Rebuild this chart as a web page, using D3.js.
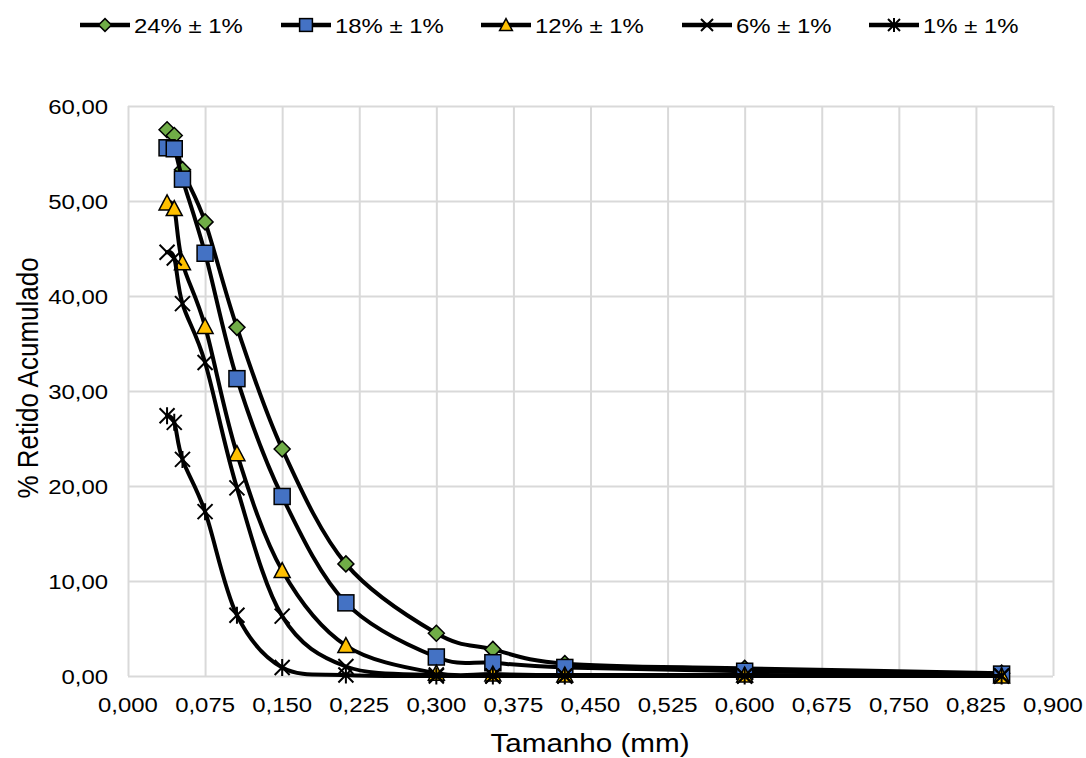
<!DOCTYPE html>
<html>
<head>
<meta charset="utf-8">
<script src="https://cdn.jsdelivr.net/npm/d3@7/dist/d3.min.js"></script>
<style>
  html, body { margin: 0; padding: 0; background: #ffffff; }
  svg { display: block; font-family: "Liberation Sans", Arial, sans-serif; }
</style>
</head>
<body>
<svg id="chart" width="1086" height="758"></svg>
<script>
// Sieve openings (mm)
const sizes = [0.038, 0.045, 0.053, 0.075, 0.106, 0.150, 0.212, 0.300, 0.355, 0.425, 0.600, 0.850];

// Cumulative retained (%) per blend
const ret24 = [57.5, 56.9, 53.3, 47.8, 36.7, 23.9, 11.8, 4.5, 2.8, 1.3, 0.8, 0.3];
const ret18 = [55.6, 55.5, 52.3, 44.5, 31.3, 18.9, 7.7, 2.0, 1.4, 0.9, 0.5, 0.2];
const ret12 = [49.8, 49.2, 43.5, 36.8, 23.4, 11.1, 3.2, 0.3, 0.2, 0.1, 0.1, 0.0];
const ret6  = [44.6, 44.0, 39.2, 33.0, 19.8, 6.3, 1.0, 0.1, 0.0, 0.0, 0.0, 0.0];
const ret1  = [27.4, 26.7, 22.8, 17.3, 6.4, 0.9, 0.1, 0.0, 0.0, 0.0, 0.0, 0.0];

const seriesNames = ["24% ± 1%", "18% ± 1%", "12% ± 1%", "6% ± 1%", "1% ± 1%"];

// Axis ticks
const xTicks = [0, 0.075, 0.150, 0.225, 0.300, 0.375, 0.450, 0.525, 0.600, 0.675, 0.750, 0.825, 0.900];
const yTicks = [0, 10, 20, 30, 40, 50, 60];

const series = [
  { name: seriesNames[0], values: ret24, marker: "diamond", fill: "#70AD47" },
  { name: seriesNames[1], values: ret18, marker: "square", fill: "#4472C4" },
  { name: seriesNames[2], values: ret12, marker: "triangle", fill: "#FFC000" },
  { name: seriesNames[3], values: ret6, marker: "x", fill: "none" },
  { name: seriesNames[4], values: ret1, marker: "star", fill: "none" }
];

const locale = d3.formatLocale({ decimal: ",", thousands: ".", grouping: [3], currency: ["", ""] });
const fmtX = locale.format(".3f");
const fmtY = locale.format(".2f");

const plot = { left: 128, right: 1053, top: 106, bottom: 676 };
const STRETCH = 1.14;   // labels are drawn slightly widened

const svg = d3.select("#chart");

const x = d3.scaleLinear().domain([0, 0.9]).range([plot.left, plot.right]);
const y = d3.scaleLinear().domain([0, 60]).range([plot.bottom, plot.top]);

// Gridlines via axes
const gridColor = "#d9d9d9";
const gx = svg.append("g")
  .attr("transform", `translate(0,${plot.bottom})`)
  .call(d3.axisBottom(x).tickValues(xTicks).tickSize(-(plot.bottom - plot.top)).tickFormat(""));
gx.select(".domain").remove();
gx.selectAll(".tick line").attr("stroke", gridColor).attr("stroke-width", 2);

const gy = svg.append("g")
  .attr("transform", `translate(${plot.left},0)`)
  .call(d3.axisLeft(y).tickValues(yTicks).tickSize(-(plot.right - plot.left)).tickFormat(""));
gy.select(".domain").remove();
gy.selectAll(".tick line").attr("stroke", gridColor).attr("stroke-width", 2);

// Stretched text helper
function label(g, tx, ty, str, size, anchor, rotate) {
  const t = g.append("text")
    .attr("transform", `translate(${tx},${ty}) scale(${STRETCH},1)` + (rotate ? ` rotate(${rotate})` : ""))
    .attr("text-anchor", anchor)
    .attr("font-size", size)
    .attr("fill", "#000")
    .text(str);
  return t;
}

// Tick labels
const labels = svg.append("g");
xTicks.forEach(v => label(labels, x(v), 712, fmtX(v), 21, "middle"));
yTicks.forEach(v => label(labels, 108, y(v) + 7.5, fmtY(v), 21, "end"));

// Axis titles
label(labels, 590, 752, "Tamanho (mm)", 26, "middle");
label(labels, 38, 378, "% Retido Acumulado", 26, "middle", -90);

// Marker drawing
function drawMarker(g, type, cx, cy, fill, s) {
  const k = s || 1;
  if (type === "diamond") {
    g.append("path")
      .attr("d", `M${cx},${cy - 8 * k} L${cx + 8 * k},${cy} L${cx},${cy + 8 * k} L${cx - 8 * k},${cy} Z`)
      .attr("fill", fill).attr("stroke", "#000").attr("stroke-width", 1.5);
  } else if (type === "square") {
    g.append("rect")
      .attr("x", cx - 8 * k).attr("y", cy - 8 * k).attr("width", 16 * k).attr("height", 16 * k)
      .attr("fill", fill).attr("stroke", "#000").attr("stroke-width", 1.5);
  } else if (type === "triangle") {
    g.append("path")
      .attr("d", `M${cx},${cy - 8 * k} L${cx + 8 * k},${cy + 7 * k} L${cx - 8 * k},${cy + 7 * k} Z`)
      .attr("fill", fill).attr("stroke", "#000").attr("stroke-width", 1.5);
  } else if (type === "x" || type === "star") {
    const r = 7.5 * k;
    let d = `M${cx - r},${cy - r} L${cx + r},${cy + r} M${cx - r},${cy + r} L${cx + r},${cy - r}`;
    if (type === "star") d += ` M${cx},${cy - r - 1} L${cx},${cy + r + 1}`;
    g.append("path").attr("d", d).attr("fill", "none").attr("stroke", "#000").attr("stroke-width", 2);
  }
}

// Series: smoothed line, then markers
const line = d3.line()
  .x(d => x(d[0]))
  .y(d => y(d[1]))
  .curve(d3.curveCardinal.tension(0));

series.forEach(s => {
  const pts = sizes.map((v, i) => [v, s.values[i]]);
  const g = svg.append("g");
  g.append("path")
    .attr("d", line(pts))
    .attr("fill", "none")
    .attr("stroke", "#000")
    .attr("stroke-width", 4)
    .attr("stroke-linejoin", "round")
    .attr("stroke-linecap", "round");
  pts.forEach(p => drawMarker(g, s.marker, x(p[0]), y(p[1]), s.fill));
});

// Legend
const legendX = [80, 281, 481, 682, 869];
const legendY = 25;
const lg = svg.append("g");
series.forEach((s, i) => {
  const lx = legendX[i];
  lg.append("line")
    .attr("x1", lx).attr("x2", lx + 50)
    .attr("y1", legendY).attr("y2", legendY)
    .attr("stroke", "#000").attr("stroke-width", 4.5);
  drawMarker(lg, s.marker, lx + 25, legendY, s.fill, 0.8);
  label(lg, lx + 54, legendY + 8, s.name, 21, "start");
});
</script>
</body>
</html>
